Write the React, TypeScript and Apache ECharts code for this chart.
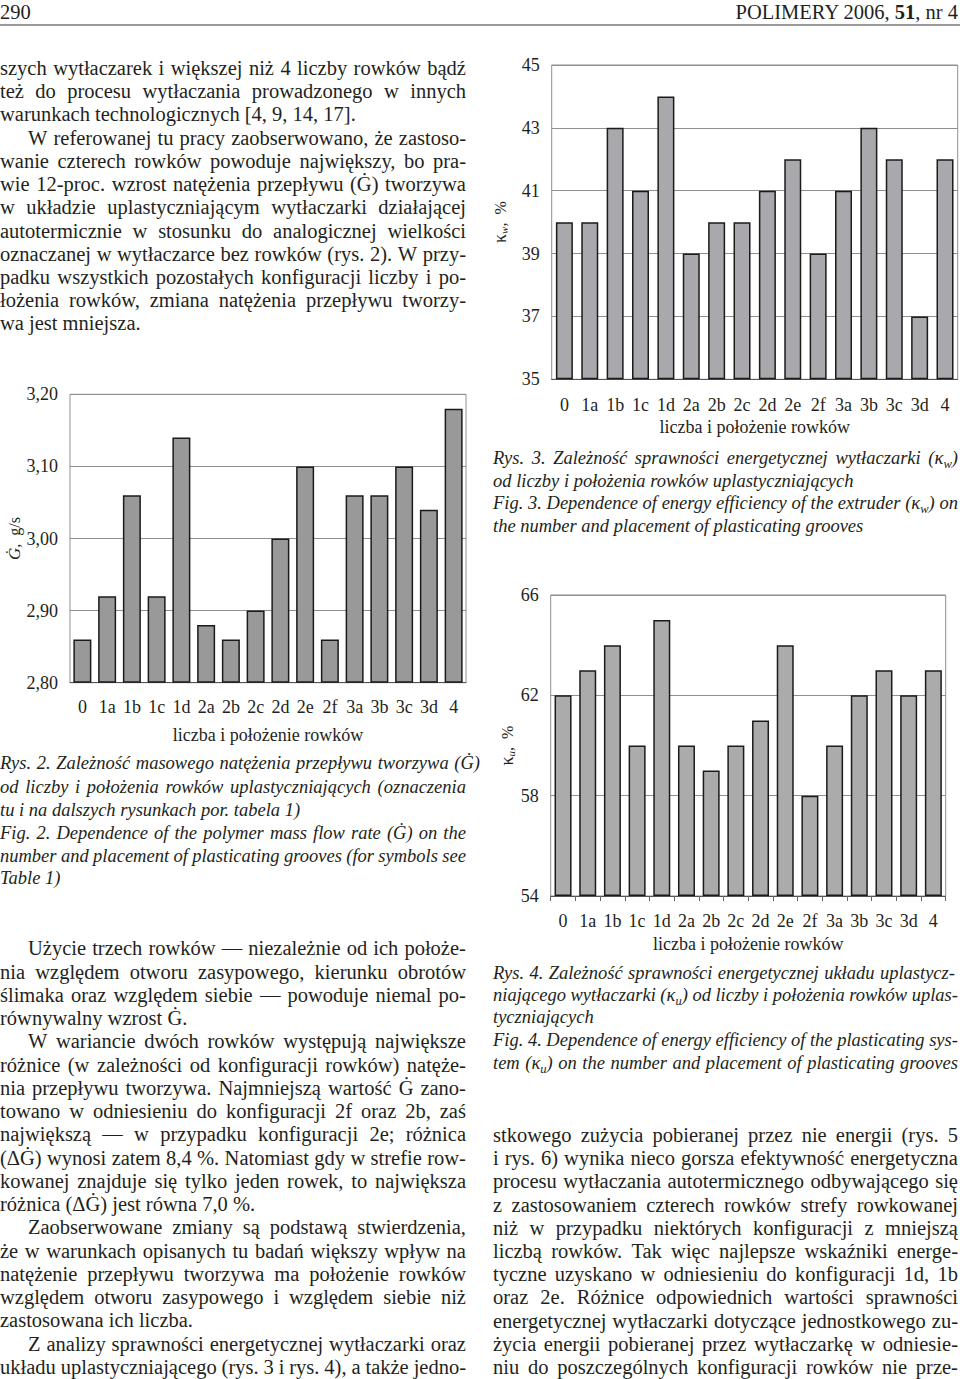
import React, { useEffect, useRef } from 'react';
import * as echarts from 'echarts';

// ---------- data ----------
const categories = ['0', '1a', '1b', '1c', '1d', '2a', '2b', '2c', '2d', '2e', '2f', '3a', '3b', '3c', '3d', '4'];
// Rys. 2: mass flow rate G, g/s
const flowRate = [2.86, 2.92, 3.06, 2.92, 3.14, 2.88, 2.86, 2.9, 3.0, 3.1, 2.86, 3.06, 3.06, 3.1, 3.04, 3.18];
const flowAxis = [2.8, 3.2, 0.1]; // min, max, step
// Rys. 3: energy efficiency of the extruder kw, %
const extruderEff = [40, 40, 43, 41, 44, 39, 40, 40, 41, 42, 39, 41, 43, 42, 37, 42];
const extruderAxis = [35, 45, 2];
// Rys. 4: energy efficiency of the plasticating system ku, %
const plastEff = [62, 63, 64, 60, 65, 60, 59, 60, 61, 64, 58, 60, 62, 63, 62, 63];
const plastAxis = [54, 66, 4];

const xTitle = 'liczba i położenie rowków';

// ---------- text ----------
type L = { t: string; x: number; y: number; w: number; j?: boolean; it?: boolean; fs?: number };

const topLeft: L[] = [
  { t: 'szych wytłaczarek i większej niż 4 liczby rowków bądź', x: 0, y: 68, w: 466, j: true },
  { t: 'też do procesu wytłaczania prowadzonego w innych', x: 0, y: 91, w: 466, j: true },
  { t: 'warunkach technologicznych [4, 9, 14, 17].', x: 0, y: 114, w: 466 },
  { t: 'W referowanej tu pracy zaobserwowano, że zastoso-', x: 28, y: 137.5, w: 438, j: true },
  { t: 'wanie czterech rowków powoduje największy, bo pra-', x: 0, y: 161, w: 466, j: true },
  { t: 'wie 12-proc. wzrost natężenia przepływu (Ġ) tworzywa', x: 0, y: 184, w: 466, j: true },
  { t: 'w układzie uplastyczniającym wytłaczarki działającej', x: 0, y: 207, w: 466, j: true },
  { t: 'autotermicznie w stosunku do analogicznej wielkości', x: 0, y: 230.5, w: 466, j: true },
  { t: 'oznaczanej w wytłaczarce bez rowków (rys. 2). W przy-', x: 0, y: 254, w: 466, j: true },
  { t: 'padku wszystkich pozostałych konfiguracji liczby i po-', x: 0, y: 277, w: 466, j: true },
  { t: 'łożenia rowków, zmiana natężenia przepływu tworzy-', x: 0, y: 300, w: 466, j: true },
  { t: 'wa jest mniejsza.', x: 0, y: 323, w: 466 },
];

const cap2: L[] = [
  { t: 'Rys. 2. Zależność masowego natężenia przepływu tworzywa (Ġ)', x: 0, y: 763, w: 480, j: true, it: true },
  { t: 'od liczby i położenia rowków uplastyczniających (oznaczenia', x: 0, y: 786.5, w: 466, j: true, it: true },
  { t: 'tu i na dalszych rysunkach por. tabela 1)', x: 0, y: 810, w: 466, it: true },
  { t: 'Fig. 2. Dependence of the polymer mass flow rate (Ġ) on the', x: 0, y: 833, w: 466, j: true, it: true },
  { t: 'number and placement of plasticating grooves (for symbols see', x: 0, y: 855.5, w: 466, j: true, it: true },
  { t: 'Table 1)', x: 0, y: 878, w: 466, it: true },
];

const bottomLeftText = [
  ['Użycie trzech rowków — niezależnie od ich położe-', 'ij'],
  ['nia względem otworu zasypowego, kierunku obrotów', 'j'],
  ['ślimaka oraz względem siebie — powoduje niemal po-', 'j'],
  ['równywalny wzrost Ġ.', ''],
  ['W wariancie dwóch rowków występują największe', 'ij'],
  ['różnice (w zależności od konfiguracji rowków) natęże-', 'j'],
  ['nia przepływu tworzywa. Najmniejszą wartość Ġ zano-', 'j'],
  ['towano w odniesieniu do konfiguracji 2f oraz 2b, zaś', 'j'],
  ['największą — w przypadku konfiguracji 2e; różnica', 'j'],
  ['(ΔĠ) wynosi zatem 8,4 %. Natomiast gdy w strefie row-', 'j'],
  ['kowanej znajduje się tylko jeden rowek, to największa', 'j'],
  ['różnica (ΔĠ) jest równa 7,0 %.', ''],
  ['Zaobserwowane zmiany są podstawą stwierdzenia,', 'ij'],
  ['że w warunkach opisanych tu badań większy wpływ na', 'j'],
  ['natężenie przepływu tworzywa ma położenie rowków', 'j'],
  ['względem otworu zasypowego i względem siebie niż', 'j'],
  ['zastosowana ich liczba.', ''],
  ['Z analizy sprawności energetycznej wytłaczarki oraz', 'ij'],
  ['układu uplastyczniającego (rys. 3 i rys. 4), a także jedno-', 'j'],
];
const bottomLeft: L[] = bottomLeftText.map(([t, f], i) => ({
  t,
  x: f.includes('i') ? 28 : 0,
  w: f.includes('i') ? 438 : 466,
  y: 948.3 + i * 23.25,
  j: f.includes('j'),
}));

const cap3: L[] = [
  { t: 'Rys. 3. Zależność sprawności energetycznej wytłaczarki (κ_w)', x: 493, y: 458, w: 465, j: true, it: true },
  { t: 'od liczby i położenia rowków uplastyczniających', x: 493, y: 481, w: 465, it: true },
  { t: 'Fig. 3. Dependence of energy efficiency of the extruder (κ_w) on', x: 493, y: 503, w: 465, j: true, it: true },
  { t: 'the number and placement of plasticating grooves', x: 493, y: 525.5, w: 465, it: true },
];

const cap4: L[] = [
  { t: 'Rys. 4. Zależność sprawności energetycznej układu uplastycz-', x: 493, y: 973, w: 462, j: true, it: true },
  { t: 'niającego wytłaczarki (κ_u) od liczby i położenia rowków uplas-', x: 493, y: 995, w: 465, j: true, it: true },
  { t: 'tyczniających', x: 493, y: 1017, w: 465, it: true },
  { t: 'Fig. 4. Dependence of energy efficiency of the plasticating sys-', x: 493, y: 1040, w: 465, j: true, it: true },
  { t: 'tem (κ_u) on the number and placement of plasticating grooves', x: 493, y: 1063, w: 465, j: true, it: true },
];

const rightText = [
  'stkowego zużycia pobieranej przez nie energii (rys. 5',
  'i rys. 6) wynika nieco gorsza efektywność energetyczna',
  'procesu wytłaczania autotermicznego odbywającego się',
  'z zastosowaniem czterech rowków strefy rowkowanej',
  'niż w przypadku niektórych konfiguracji z mniejszą',
  'liczbą rowków. Tak więc najlepsze wskaźniki energe-',
  'tyczne uzyskano w odniesieniu do konfiguracji 1d, 1b',
  'oraz 2e. Różnice odpowiednich wartości sprawności',
  'energetycznej wytłaczarki dotyczące jednostkowego zu-',
  'życia energii pobieranej przez wytłaczarkę w odniesie-',
  'niu do poszczególnych konfiguracji rowków nie prze-',
];
const rightPara: L[] = rightText.map((t, i) => ({ t, x: 493, y: 1135 + i * 23.2, w: 465, j: true }));

const FONT = '"Liberation Serif", "Times New Roman", serif';
const CHART_FONT = 'Liberation Serif';
const INK = '#231f20';

function rich(t: string, key: string) {
  const parts = t.split(/(κ_[wu])/);
  return (
    <span key={key} style={{ whiteSpace: 'pre' }}>
      {parts.map((p, i) =>
        p.startsWith('κ_') ? (
          <span key={i}>
            κ
            <sub style={{ fontSize: '0.68em', fontStyle: 'italic', verticalAlign: '-0.3em', lineHeight: 0 }}>{p[2]}</sub>
          </span>
        ) : (
          p
        )
      )}
    </span>
  );
}

function Line({ l, fs }: { l: L; fs: number }) {
  const style: React.CSSProperties = {
    position: 'absolute',
    left: l.x,
    top: l.y - 12,
    width: l.w,
    height: 24,
    lineHeight: '24px',
    fontSize: l.fs ?? fs,
    fontStyle: l.it ? 'italic' : 'normal',
    whiteSpace: 'nowrap',
    display: 'flex',
    justifyContent: l.j ? 'space-between' : 'flex-start',
  };
  return <div style={style}>{l.j ? l.t.split(' ').map((w, i) => rich(w, String(i))) : rich(l.t, 'a')}</div>;
}

// ---------- chart ----------
function buildPart(
  idx: number,
  rect: { left: number; top: number; width: number; height: number },
  values: number[],
  axis: number[],
  fmt: (v: number) => string,
  color: string,
  barW: number,
  yName: string,
  yRich: any,
  yGap: number,
  labelMargin: number,
  xNameGap: number,
  ticks: boolean
) {
  const [base, top, step] = axis;
  const grid = { ...rect, show: true, borderColor: '#8f8f8f', borderWidth: 1, backgroundColor: 'transparent', containLabel: false };
  const xAxis = {
    type: 'category',
    gridIndex: idx,
    data: categories,
    name: xTitle,
    nameLocation: 'middle',
    nameGap: xNameGap,
    nameTextStyle: { fontFamily: CHART_FONT, fontSize: 18, color: INK },
    axisLine: { show: true, lineStyle: { color: '#555', width: 1 } },
    axisTick: { show: ticks, length: 5, lineStyle: { color: '#666' } },
    axisLabel: { fontFamily: CHART_FONT, fontSize: 18, color: INK, margin: labelMargin, interval: 0 },
  };
  const yAxis = {
    type: 'value',
    gridIndex: idx,
    min: 0,
    max: +(top - base).toFixed(6),
    interval: step,
    name: yName,
    nameLocation: 'middle',
    nameRotate: 90,
    nameGap: yGap,
    nameTextStyle: { fontFamily: CHART_FONT, fontSize: 16, color: INK, rich: yRich },
    axisLine: { show: false },
    axisTick: { show: false },
    splitLine: { show: true, lineStyle: { color: '#8f8f8f', width: 1 } },
    axisLabel: { fontFamily: CHART_FONT, fontSize: 18, color: INK, margin: 12, formatter: (v: number) => fmt(v + base) },
  };
  const series = {
    type: 'bar',
    xAxisIndex: idx,
    yAxisIndex: idx,
    data: values.map((v) => +(v - base).toFixed(6)),
    barWidth: barW,
    itemStyle: { color, borderColor: '#1b1b1b', borderWidth: 1.5 },
    clip: false,
  };
  return { grid, xAxis, yAxis, series };
}

function Charts() {
  const ref = useRef<HTMLDivElement>(null);
  useEffect(() => {
    if (!ref.current) return;
    const chart = echarts.init(ref.current, null, { renderer: 'svg' });
    const baseRich = {
      k: { fontFamily: CHART_FONT, fontSize: 18, color: INK },
      s: { fontFamily: CHART_FONT, fontSize: 11, fontStyle: 'italic', color: INK, padding: [8, 0, 0, 0] },
      t: { fontFamily: CHART_FONT, fontSize: 16, color: INK },
      g: { fontFamily: CHART_FONT, fontSize: 17, fontStyle: 'italic', color: INK },
    };
    const p3 = buildPart(0, { left: 551.7, top: 65, width: 406, height: 314.3 }, extruderEff, extruderAxis,
      (v) => String(Math.round(v)), '#a9a9ad', 17, '{k|κ}{s|w}{t|,  %}', baseRich, 42, 17, 39, false);
    const p2 = buildPart(1, { left: 70, top: 394.3, width: 396, height: 288.4 }, flowRate, flowAxis,
      (v) => v.toFixed(2).replace('.', ','), '#999999', 18, '{g|Ġ}{t|,  g/s}', baseRich, 47, 15, 43, false);
    const p4 = buildPart(2, { left: 550.7, top: 595, width: 395, height: 301 }, plastEff, plastAxis,
      (v) => String(Math.round(v)), '#ababab', 17, '{k|κ}{s|u}{t|,  %}', baseRich, 30, 16, 39, true);
    const parts = [p3, p2, p4];
    chart.setOption({
      animation: false,
      backgroundColor: 'transparent',
      grid: parts.map((p) => p.grid),
      xAxis: parts.map((p) => p.xAxis),
      yAxis: parts.map((p) => p.yAxis),
      series: parts.map((p) => p.series),
    });
    return () => chart.dispose();
  }, []);
  return <div ref={ref} style={{ position: 'absolute', left: 0, top: 0, width: 960, height: 1379 }} />;
}

export default function App() {
  return (
    <div
      style={{
        position: 'absolute',
        left: 0,
        top: 0,
        width: 960,
        height: 1379,
        overflow: 'hidden',
        background: '#ffffff',
        color: INK,
        fontFamily: FONT,
      }}
    >
      <Charts />
      <div style={{ position: 'absolute', left: 0, top: 0, width: 960, height: 1379, pointerEvents: 'none' }}>
        <div style={{ position: 'absolute', left: 0, top: 0, height: 24, lineHeight: '24px', fontSize: 20.5 }}>290</div>
        <div style={{ position: 'absolute', right: 2, top: 0, height: 24, lineHeight: '24px', fontSize: 20.5, whiteSpace: 'nowrap' }}>
          POLIMERY 2006, <b>51</b>, nr 4
        </div>
        <div style={{ position: 'absolute', left: 0, top: 24, width: 960, height: 2, background: '#9a9a9a' }} />
        {topLeft.map((l, i) => <Line key={'a' + i} l={l} fs={20.5} />)}
        {cap2.map((l, i) => <Line key={'b' + i} l={l} fs={18.5} />)}
        {bottomLeft.map((l, i) => <Line key={'c' + i} l={l} fs={20.5} />)}
        {cap3.map((l, i) => <Line key={'d' + i} l={l} fs={18.5} />)}
        {cap4.map((l, i) => <Line key={'e' + i} l={l} fs={18.5} />)}
        {rightPara.map((l, i) => <Line key={'f' + i} l={l} fs={20.5} />)}
      </div>
    </div>
  );
}
